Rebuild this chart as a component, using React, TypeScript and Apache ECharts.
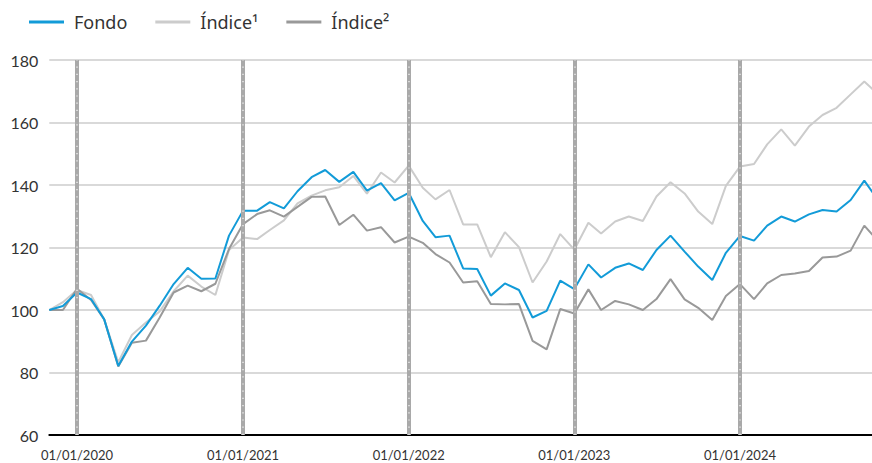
import React, { useEffect, useRef } from "react";
import * as echarts from "echarts";

// Monthly observation dates (first day of each month)
const dates: string[] = [
  "2019-11-01", "2019-12-01",
  "2020-01-01", "2020-02-01", "2020-03-01", "2020-04-01", "2020-05-01", "2020-06-01",
  "2020-07-01", "2020-08-01", "2020-09-01", "2020-10-01", "2020-11-01", "2020-12-01",
  "2021-01-01", "2021-02-01", "2021-03-01", "2021-04-01", "2021-05-01", "2021-06-01",
  "2021-07-01", "2021-08-01", "2021-09-01", "2021-10-01", "2021-11-01", "2021-12-01",
  "2022-01-01", "2022-02-01", "2022-03-01", "2022-04-01", "2022-05-01", "2022-06-01",
  "2022-07-01", "2022-08-01", "2022-09-01", "2022-10-01", "2022-11-01", "2022-12-01",
  "2023-01-01", "2023-02-01", "2023-03-01", "2023-04-01", "2023-05-01", "2023-06-01",
  "2023-07-01", "2023-08-01", "2023-09-01", "2023-10-01", "2023-11-01", "2023-12-01",
  "2024-01-01", "2024-02-01", "2024-03-01", "2024-04-01", "2024-05-01", "2024-06-01",
  "2024-07-01", "2024-08-01", "2024-09-01", "2024-10-01", "2024-11-01",
];

const fondo: number[] = [
  100, 101.3,
  105.6, 103.5, 97, 82.1, 89.9, 95, 101.3, 108.3, 113.5, 110, 110.1, 123.8,
  131.8, 131.8, 134.5, 132.5, 138, 142.5, 144.8, 141, 144.2, 138.2, 140.6, 135.1,
  137.5, 128.5, 123.3, 123.8, 113.3, 113.1, 104.6, 108.5, 106.4, 97.6, 99.7, 109.4,
  106.7, 114.6, 110.4, 113.5, 114.9, 112.8, 119.2, 123.8, 118.7, 113.9, 109.6, 118.3,
  123.7, 122.2, 127, 129.9, 128.3, 130.6, 132, 131.5, 135.2, 141.4, 135,
];

const indice1: number[] = [
  100, 102.5,
  106.4, 104.8, 97, 83.3, 92, 96, 99.5, 106, 111, 107.5, 104.8, 119.2,
  123.2, 122.7, 125.6, 128.7, 134.1, 136.6, 138.3, 139.3, 142.9, 137.2, 144, 140.8,
  146.2, 139.1, 135.4, 138.4, 127.4, 127.4, 116.9, 124.9, 120.1, 108.8, 115.5, 124.3,
  119.3, 127.9, 124.5, 128.3, 129.9, 128.5, 136.3, 140.9, 137.3, 131.5, 127.5, 139.7,
  145.9, 146.7, 153, 157.8, 152.6, 158.7, 162.4, 164.7, 169, 173.1, 169,
];

const indice2: number[] = [
  100, 100,
  106.8, 103.2, 97, 81.9, 89.5, 90.2, 97.5, 105.6, 107.8, 106, 108.4, 119.5,
  127.5, 130.7, 131.9, 129.9, 133, 136.2, 136.3, 127.2, 130.5, 125.4, 126.5, 121.6,
  123.5, 121.5, 117.9, 115.2, 108.8, 109.2, 101.9, 101.8, 101.9, 90.1, 87.4, 100.3,
  98.9, 106.6, 100, 102.9, 101.8, 100, 103.5, 109.9, 103.4, 100.7, 96.8, 104.5,
  108.3, 103.5, 108.5, 111.2, 111.7, 112.5, 116.8, 117.1, 119, 127, 122,
];

const seriesNames: string[] = ["Fondo", "Índice¹", "Índice²"];
const yearMarks: string[] = ["2020-01-01", "2021-01-01", "2022-01-01", "2023-01-01", "2024-01-01"];
const yearLabels: string[] = ["01/01/2020", "01/01/2021", "01/01/2022", "01/01/2023", "01/01/2024"];
const axisStart = "2019-11-01";
const axisEnd = "2024-10-18";

const ts = (d: string) => {
  const [y, m, dd] = d.split("-").map(Number);
  return Date.UTC(y, m - 1, dd);
};

export default function App() {
  const ref = useRef<HTMLDivElement>(null);

  useEffect(() => {
    if (!ref.current) return;
    const chart = echarts.init(ref.current, undefined, { renderer: "svg" });
    const markTs = yearMarks.map(ts);
    const font = "Lato, 'Noto Sans', sans-serif";
    const legendFont = "'Noto Sans', Lato, sans-serif";
    const mk = (vals: number[]) => dates.map((d, i) => [ts(d), vals[i]]);

    chart.setOption({
      animation: false,
      backgroundColor: "#ffffff",
      textStyle: { fontFamily: font },
      legend: {
        left: 29,
        top: 13,
        padding: 0,
        icon: "rect",
        itemWidth: 35,
        itemHeight: 3,
        itemGap: 28,
        textStyle: { fontSize: 18, color: "#333333", fontFamily: legendFont, padding: [0, 0, 0, 5] },
        data: seriesNames,
      },
      grid: { left: 49.3, right: 0, top: 60, bottom: 28, containLabel: false },
      xAxis: {
        type: "time",
        min: ts(axisStart),
        max: ts(axisEnd),
        axisLine: { show: true, lineStyle: { color: "#000000", width: 2 } },
        axisTick: { show: false },
        splitLine: { show: false },
        axisLabel: { show: false },
      },
      yAxis: {
        type: "value",
        min: 60,
        max: 180,
        interval: 20,
        axisLine: { show: false },
        axisTick: { show: false },
        axisLabel: { fontSize: 16, color: "#333333", margin: 11, fontFamily: font },
        splitLine: { lineStyle: { color: "#cccccc", width: 1.5 } },
      },
      series: [
        {
          type: "line",
          name: "_years",
          data: [],
          silent: true,
          z: 1,
          markLine: {
            silent: true,
            symbol: "none",
            lineStyle: { color: "#a9a9a9", width: 4, type: "solid" },
            data: markTs.map((t, i) => ({
              xAxis: t,
              label: {
                show: true,
                position: "start",
                formatter: yearLabels[i],
                fontSize: 13,
                color: "#333333",
                fontFamily: font,
                distance: 13,
              },
            })),
          },
        },
        {
          type: "line",
          name: "_yearsDash",
          data: [],
          silent: true,
          z: 1,
          markLine: {
            silent: true,
            symbol: "none",
            label: { show: false },
            lineStyle: { color: "#e8e8e8", width: 1.5, type: [1.2, 6] },
            data: markTs.map((t) => ({ xAxis: t })),
          },
        },
        {
          type: "line",
          name: seriesNames[1],
          data: mk(indice1),
          showSymbol: false,
          color: "#cccccc",
          lineStyle: { width: 2, color: "#cccccc" },
          z: 2,
        },
        {
          type: "line",
          name: seriesNames[2],
          data: mk(indice2),
          showSymbol: false,
          color: "#999999",
          lineStyle: { width: 2, color: "#999999" },
          z: 3,
        },
        {
          type: "line",
          name: seriesNames[0],
          data: mk(fondo),
          showSymbol: false,
          color: "#129bd8",
          lineStyle: { width: 2, color: "#129bd8" },
          z: 4,
        },
      ],
    });
    return () => chart.dispose();
  }, []);

  return (
    <div
      ref={ref}
      style={{ position: "fixed", left: 0, top: 0, width: 872, height: 463 }}
    />
  );
}
